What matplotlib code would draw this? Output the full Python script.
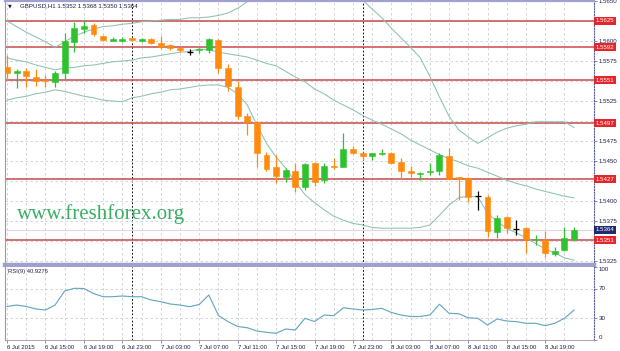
import matplotlib
matplotlib.use("Agg")
import matplotlib.pyplot as plt

# ---------------- data ----------------
title_text = "GBPUSD,H1 1.5352 1.5368 1.5350 1.5364"
rsi_title = "RSI(9) 40.9276"
watermark = "www.freshforex.org"

time_labels = ["6 Jul 2015", "6 Jul 15:00", "6 Jul 19:00", "6 Jul 23:00", "7 Jul 03:00",
               "7 Jul 07:00", "7 Jul 11:00", "7 Jul 15:00", "7 Jul 19:00", "7 Jul 23:00",
               "8 Jul 03:00", "8 Jul 07:00", "8 Jul 11:00", "8 Jul 15:00", "8 Jul 19:00"]
label_bars = [0, 4, 8, 12, 16, 20, 24, 28, 32, 36, 40, 44, 48, 52, 56]
day_separators = [13, 37]

opens = [1.5568, 1.5560, 1.5563, 1.5555, 1.5551, 1.5549, 1.5560, 1.5599, 1.5615, 1.5620,
         1.5606, 1.5600, 1.5600, 1.5604, 1.5600, 1.5603, 1.5598, 1.5595, 1.5591, 1.5586,
         1.5589, 1.5589, 1.5601, 1.5566, 1.5543, 1.5506, 1.5499, 1.5458, 1.5443, 1.5430,
         1.5438, 1.5418, 1.5448, 1.5426, 1.5444, 1.5443, 1.5465, 1.5460, 1.5456, 1.5459,
         1.5460, 1.5449, 1.5438, 1.5434, 1.5436, 1.5438, 1.5456, 1.5430, 1.5429, 1.5406,
         1.5405, 1.5361, 1.5380, 1.5365, 1.5366, 1.5352, 1.5351, 1.5334, 1.5339, 1.5352]
highs = [1.5583, 1.5565, 1.5566, 1.5565, 1.5558, 1.5563, 1.5610, 1.5624, 1.5626, 1.5623,
         1.5608, 1.5605, 1.5605, 1.5605, 1.5604, 1.5604, 1.5606, 1.5596, 1.5593, 1.5590,
         1.5591, 1.5604, 1.5603, 1.5571, 1.5550, 1.5510, 1.5500, 1.5461, 1.5458, 1.5441,
         1.5448, 1.5448, 1.5449, 1.5448, 1.5454, 1.5485, 1.5469, 1.5461, 1.5460, 1.5465,
         1.5461, 1.5454, 1.5444, 1.5436, 1.5448, 1.5460, 1.5466, 1.5430, 1.5430, 1.5413,
         1.5408, 1.5383, 1.5381, 1.5376, 1.5368, 1.5358, 1.5363, 1.5343, 1.5368, 1.5368]
lows = [1.5551, 1.5541, 1.5543, 1.5544, 1.5543, 1.5543, 1.5551, 1.5586, 1.5610, 1.5606,
        1.5600, 1.5600, 1.5599, 1.5600, 1.5599, 1.5596, 1.5590, 1.5589, 1.5586, 1.5583,
        1.5585, 1.5585, 1.5560, 1.5538, 1.5503, 1.5483, 1.5443, 1.5438, 1.5423, 1.5424,
        1.5411, 1.5414, 1.5419, 1.5423, 1.5440, 1.5443, 1.5459, 1.5451, 1.5451, 1.5458,
        1.5447, 1.5428, 1.5430, 1.5426, 1.5433, 1.5433, 1.5428, 1.5401, 1.5399, 1.5389,
        1.5355, 1.5354, 1.5360, 1.5358, 1.5335, 1.5345, 1.5330, 1.5331, 1.5338, 1.5350]
closes = [1.5560, 1.5563, 1.5556, 1.5550, 1.5550, 1.5560, 1.5600, 1.5616, 1.5619, 1.5609,
          1.5601, 1.5603, 1.5603, 1.5601, 1.5603, 1.5598, 1.5593, 1.5591, 1.5589, 1.5586,
          1.5590, 1.5603, 1.5566, 1.5544, 1.5506, 1.5499, 1.5460, 1.5440, 1.5431, 1.5439,
          1.5418, 1.5446, 1.5424, 1.5444, 1.5442, 1.5465, 1.5460, 1.5456, 1.5460, 1.5460,
          1.5448, 1.5438, 1.5435, 1.5435, 1.5438, 1.5458, 1.5428, 1.5428, 1.5405, 1.5406,
          1.5363, 1.5379, 1.5366, 1.5365, 1.5353, 1.5353, 1.5335, 1.5338, 1.5354, 1.5364]

bb_upper = [1.5625, 1.5618, 1.5611, 1.5605, 1.5599, 1.5592, 1.5599, 1.5606, 1.5611, 1.5615,
            1.5618, 1.5619, 1.5621, 1.5622, 1.5624, 1.5625, 1.5626, 1.5627, 1.5627, 1.5629,
            1.5629, 1.5630, 1.5632, 1.5635, 1.5641, 1.5649, 1.5661, 1.5670, 1.5676, 1.5680,
            1.5682, 1.5682, 1.5681, 1.5679, 1.5676, 1.5672, 1.5662, 1.5651, 1.5640, 1.5629,
            1.5616, 1.5604, 1.5592, 1.5579, 1.5556, 1.5530, 1.5506, 1.5489, 1.5480, 1.5472,
            1.5479, 1.5486, 1.5491, 1.5494, 1.5496, 1.5499, 1.5499, 1.5499, 1.5499, 1.5492]
bb_middle = [1.5579, 1.5576, 1.5574, 1.5570, 1.5567, 1.5564, 1.5566, 1.5567, 1.5569, 1.5570,
             1.5572, 1.5574, 1.5575, 1.5576, 1.5579, 1.5580, 1.5582, 1.5584, 1.5586, 1.5587,
             1.5590, 1.5589, 1.5586, 1.5584, 1.5582, 1.5580, 1.5576, 1.5572, 1.5569, 1.5562,
             1.5555, 1.5549, 1.5540, 1.5534, 1.5526, 1.5520, 1.5514, 1.5507, 1.5501, 1.5496,
             1.5490, 1.5484, 1.5476, 1.5470, 1.5464, 1.5458, 1.5453, 1.5449, 1.5444, 1.5441,
             1.5436, 1.5431, 1.5426, 1.5422, 1.5419, 1.5415, 1.5412, 1.5409, 1.5406, 1.5404]
bb_lower = [1.5526, 1.5529, 1.5531, 1.5534, 1.5536, 1.5539, 1.5537, 1.5534, 1.5531, 1.5529,
            1.5526, 1.5525, 1.5524, 1.5529, 1.5531, 1.5534, 1.5536, 1.5539, 1.5540, 1.5542,
            1.5544, 1.5545, 1.5545, 1.5542, 1.5534, 1.5520, 1.5495, 1.5472, 1.5455, 1.5441,
            1.5424, 1.5408, 1.5398, 1.5389, 1.5381, 1.5376, 1.5372, 1.5370, 1.5367, 1.5366,
            1.5366, 1.5366, 1.5366, 1.5367, 1.5370, 1.5382, 1.5395, 1.5404, 1.5406, 1.5405,
            1.5385, 1.5374, 1.5366, 1.5360, 1.5354, 1.5347, 1.5340, 1.5335, 1.5329, 1.5326]

rsi = [45.9, 47.9, 45.9, 42.5, 41.1, 47.9, 67.1, 70.8, 70.5, 63.7,
       59.3, 59.3, 60.3, 59.3, 59.3, 54.8, 52.5, 49.3, 47.9, 45.6,
       48.6, 61.6, 33.6, 25.1, 18.5, 16.8, 12.3, 10.5, 9.2, 15.1,
       13.7, 29.7, 25.3, 34.2, 33.3, 44.2, 42.5, 41.1, 41.8, 43.4,
       37.7, 34.2, 32.2, 32.2, 34.2, 48.9, 36.6, 36.0, 30.5, 29.7,
       20.5, 28.8, 26.0, 25.1, 22.9, 22.9, 19.6, 22.9, 29.7, 40.9276]

levels = [1.5625, 1.5592, 1.5551, 1.5497, 1.5427, 1.5351]
bid = 1.5364

price_ticks = [1.5325, 1.5350, 1.5375, 1.5400, 1.5425, 1.5450, 1.5475, 1.5500, 1.5525,
               1.5550, 1.5575, 1.5600, 1.5625, 1.5650]
price_tick_labels = ["1.5325", "", "1.5375", "1.5400", "", "1.5450", "1.5475", "", "1.5525",
                     "", "1.5575", "1.5600", "", "1.5650"]
rsi_ticks = [0, 30, 70, 100]
rsi_tick_labels = ["0", "30", "70", "100"]

# ---------------- style ----------------
W, H = 620, 351
FONT = ["Liberation Sans", "DejaVu Sans"]
plt.rcParams["font.family"] = FONT
ORANGE = "#ff8a0e"
GREEN = "#2fc22f"
BAND = "#8cc2b0"
LEVEL = "#c94a4a"
GRID = "#cdcdd6"
FRAME = "#a0a0cf"
TXT = "#1d1d4d"

def rect(x0, y0, x1, y1):
    return [x0 / W, 1 - y1 / H, (x1 - x0) / W, (y1 - y0) / H]

fig = plt.figure(figsize=(W / 100, H / 100), dpi=100)
fig.patch.set_facecolor("white")
ax = fig.add_axes(rect(5, 1, 594, 265))
ax2 = fig.add_axes(rect(5, 267, 594, 340))

n = len(opens)
xs = list(range(n))
XL = (-0.21, 61.08)

for a in (ax, ax2):
    a.set_xlim(*XL)
    a.set_facecolor("white")
    a.set_xticks(xs[::2], minor=True)
    a.grid(which="both", axis="x", color=GRID, lw=0.6, ls=(0, (3, 3)))
    for b in day_separators:
        a.axvline(b, color="black", lw=0.65, ls=(0, (2, 2)), zorder=1.5)
    a.spines["left"].set_color("#9a9a9a")
    a.spines["left"].set_linewidth(0.8)
    a.spines["right"].set_color("#5a5a9a")
    a.spines["right"].set_linestyle((0, (1, 1.5)))
    a.spines["right"].set_linewidth(0.8)
    a.yaxis.tick_right()
    a.tick_params(axis="y", which="both", length=2, width=0.5, color="#5a5a9a",
                  labelsize=4.4, labelcolor=TXT, pad=1.5)
    a.tick_params(axis="x", which="minor", length=0)

# ---- main price panel ----
ax.set_ylim(1.5320, 1.5650)
ax.set_yticks(price_ticks)
ax.set_yticklabels(price_tick_labels)
ax.grid(which="major", axis="y", color=GRID, lw=0.6, ls=(0, (3, 3)))
ax.set_xticks(label_bars)
ax.tick_params(axis="x", which="major", length=0, labelbottom=False)
ax.spines["top"].set_color(FRAME)
ax.spines["top"].set_linewidth(1.6)
ax.spines["bottom"].set_color(FRAME)
ax.spines["bottom"].set_linewidth(3.2)

# bid line
ax.axhline(bid, color="#e8d8dc", lw=0.8, zorder=1.6)
# support / resistance levels
for lv in levels:
    ax.axhline(lv, color=LEVEL, lw=1.1, zorder=1.7)
    ax.text(1.003, lv, f"{lv:.4f}", transform=ax.get_yaxis_transform(), color="white",
            fontsize=4.4, va="center", ha="left", clip_on=False, zorder=5,
            bbox=dict(boxstyle="square,pad=0.25", fc="#e3262b", ec="none"))
ax.text(1.003, bid, f"{bid:.4f}", transform=ax.get_yaxis_transform(), color="white",
        fontsize=4.4, va="center", ha="left", clip_on=False, zorder=5,
        bbox=dict(boxstyle="square,pad=0.25", fc="#1f2a70", ec="none"))

# Bollinger bands
for band in (bb_upper, bb_middle, bb_lower):
    ax.plot(xs, band, color=BAND, lw=0.75, zorder=2)

# candles
for i in xs:
    o, h, l, c = opens[i], highs[i], lows[i], closes[i]
    if c > o:
        col = GREEN
    elif c < o:
        col = ORANGE
    else:
        col = "black"
    ax.vlines(i, l, h, color=col, lw=0.9, zorder=3)
    if c == o:
        ax.hlines(o, i - 0.32, i + 0.32, color=col, lw=0.9, zorder=3)
    else:
        ax.bar(i, abs(c - o), bottom=min(o, c), width=0.62, color=col,
               edgecolor=col, lw=0.4, zorder=3.5)

# ---- RSI panel ----
ax2.set_ylim(0, 100)
ax2.set_yticks(rsi_ticks)
ax2.set_yticklabels(rsi_tick_labels)
for lab, va in zip(ax2.get_yticklabels(), ["bottom", "center", "center", "top"]):
    lab.set_va(va)
ax2.axhline(70, color=GRID, lw=0.6, ls=(0, (3, 3)))
ax2.axhline(30, color=GRID, lw=0.6, ls=(0, (3, 3)))
ax2.plot(xs, rsi, color="#68a8bf", lw=0.85, zorder=3)
ax2.spines["top"].set_visible(False)
ax2.spines["bottom"].set_color("#9a9a9a")
ax2.spines["bottom"].set_linewidth(0.6)
ax2.set_xticks(label_bars)
ax2.set_xticklabels(time_labels, ha="left")
ax2.tick_params(axis="x", which="major", length=2, width=0.5, color="#5a5a9a",
                labelsize=4.3, labelcolor=TXT, pad=1.5)
ax2.text(0.005, 0.97, rsi_title, transform=ax2.transAxes, fontsize=4.2, color=TXT,
         va="top", ha="left")

# title and watermark
fig.text(8 / W, 1 - 6 / H, "\u25BC", fontsize=3.5, color=TXT, va="center", ha="left",
         family="DejaVu Sans")
fig.text(20 / W, 1 - 6 / H, title_text, fontsize=4.4, color=TXT, va="center", ha="left")
fig.text(17 / W, 1 - 219 / H, watermark, fontsize=15, color="#3cae64", va="baseline",
         ha="left", family=["Liberation Serif", "DejaVu Serif"])

fig.savefig("out.png", dpi=100, facecolor="white")
